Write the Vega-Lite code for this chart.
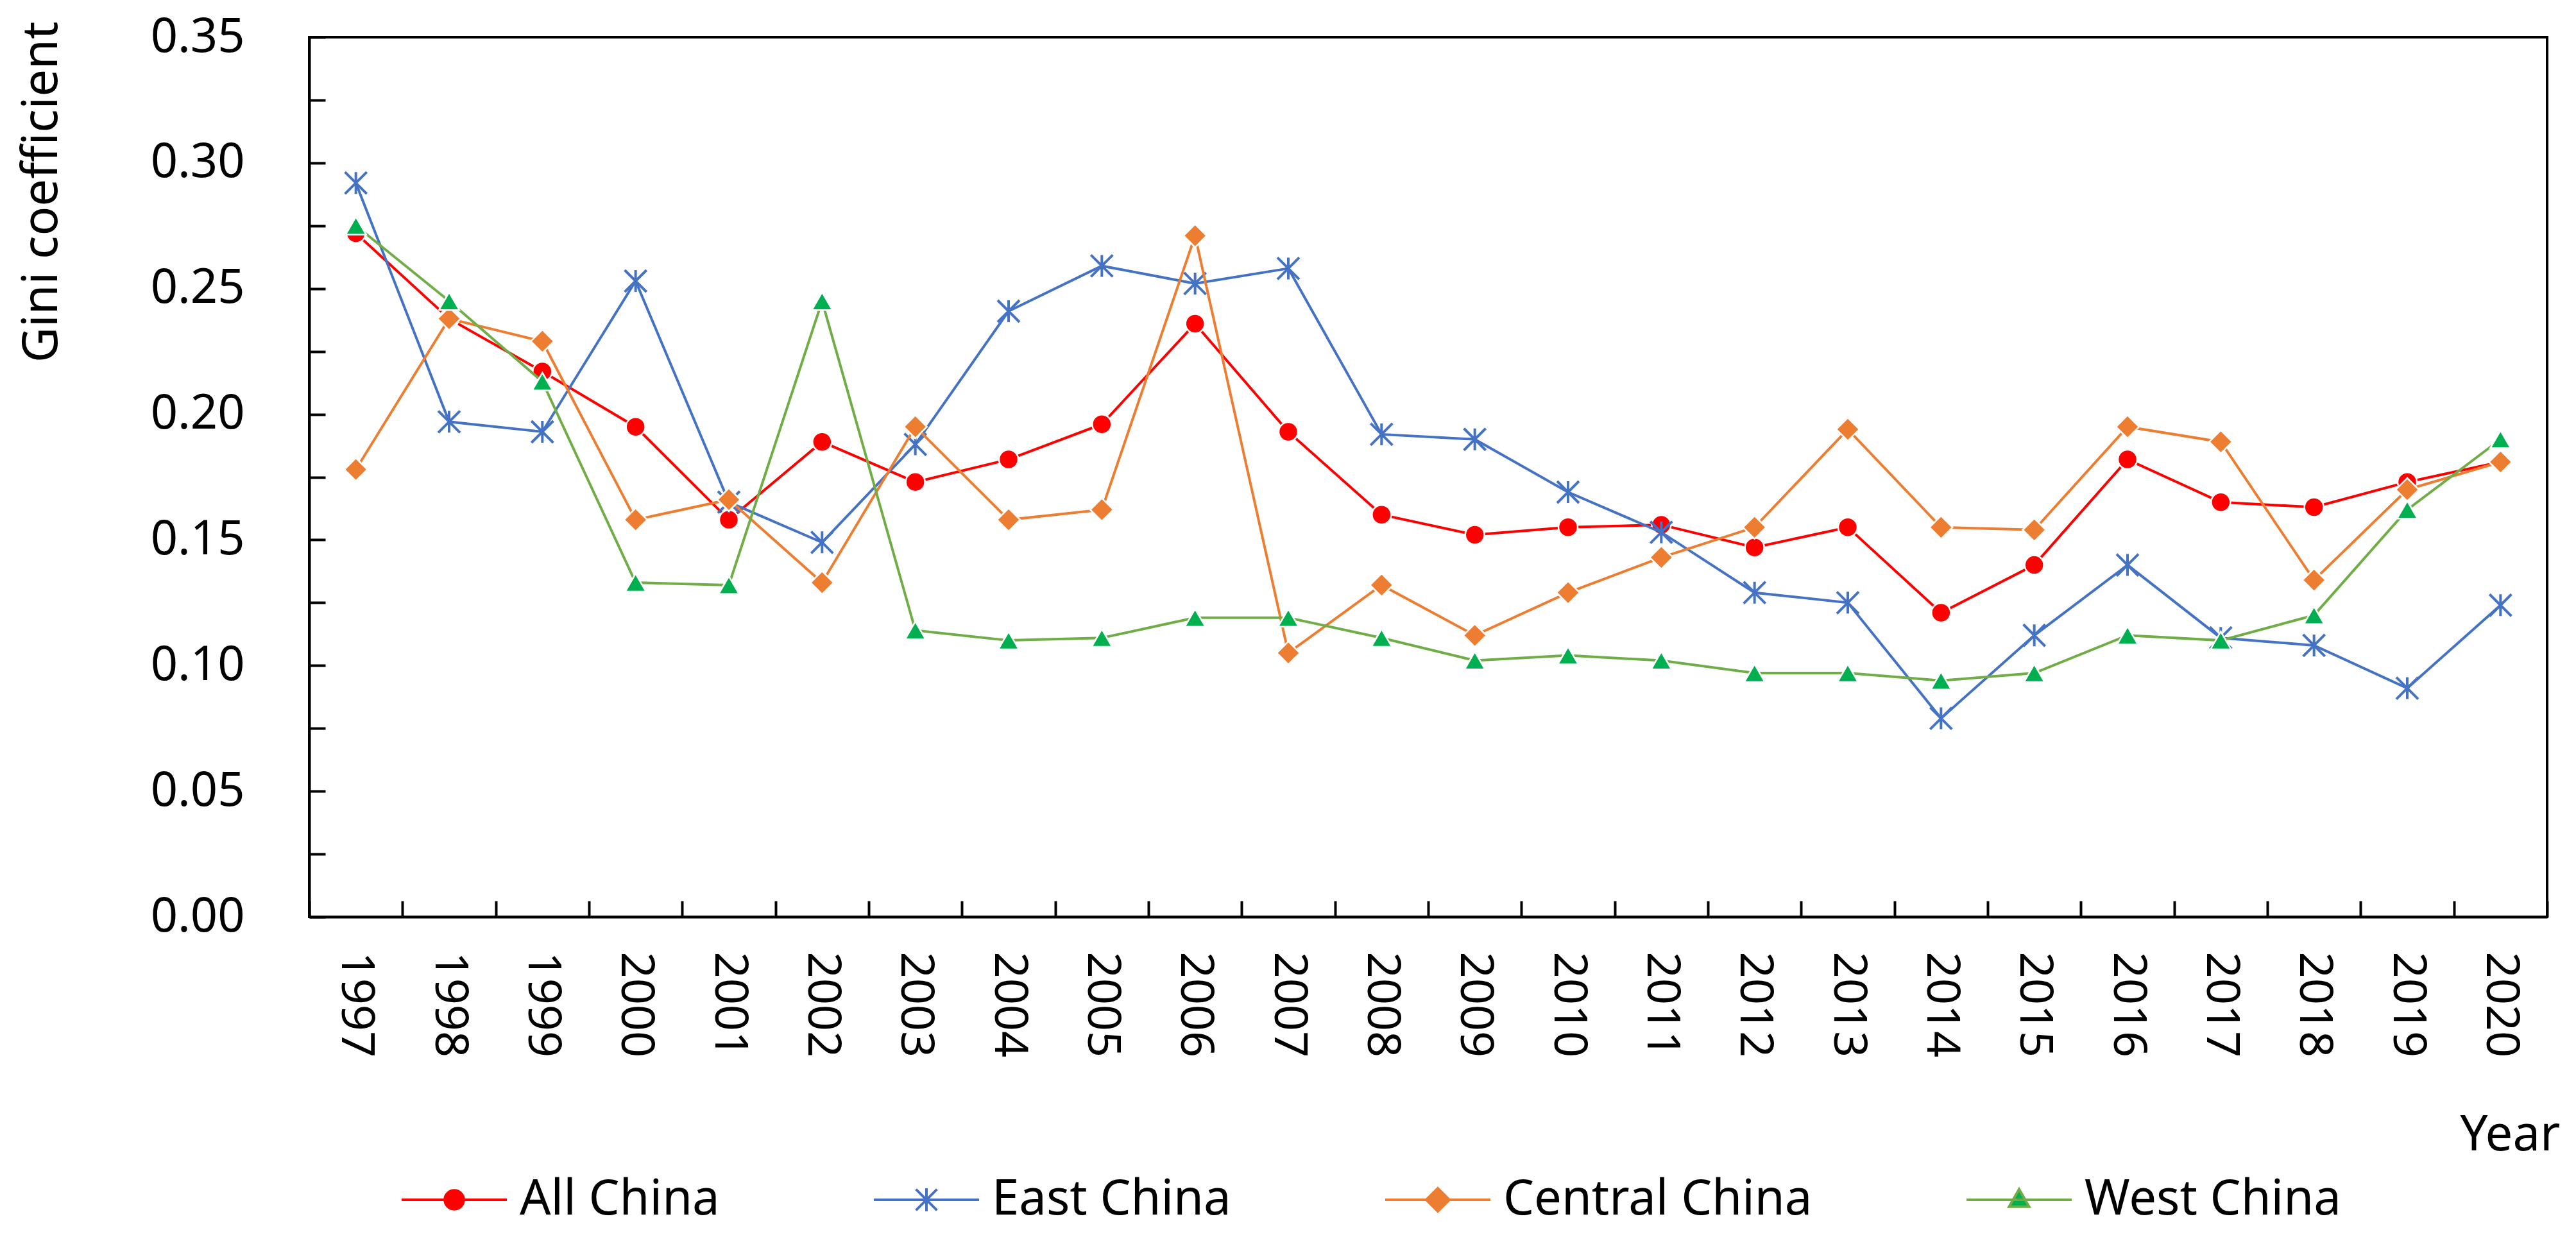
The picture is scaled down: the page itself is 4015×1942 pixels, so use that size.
{
  "$schema": "https://vega.github.io/schema/vega-lite/v6.json",
  "width": 3488,
  "height": 1371,
  "autosize": {"type": "none"},
  "padding": {"left": 482, "top": 58, "right": 45, "bottom": 513},
  "background": "white",
  "config": {
    "view": {"stroke": "black", "strokeWidth": 4},
    "font": "Noto Sans",
    "axis": {"labelFont": "Noto Sans", "titleFont": "Noto Sans", "labelColor": "black", "titleColor": "black", "titleFontWeight": "normal", "grid": false}
  },
  "data": {
    "values": [
      {"year": "1997", "series": "All China", "value": 0.272},
      {"year": "1998", "series": "All China", "value": 0.238},
      {"year": "1999", "series": "All China", "value": 0.217},
      {"year": "2000", "series": "All China", "value": 0.195},
      {"year": "2001", "series": "All China", "value": 0.158},
      {"year": "2002", "series": "All China", "value": 0.189},
      {"year": "2003", "series": "All China", "value": 0.173},
      {"year": "2004", "series": "All China", "value": 0.182},
      {"year": "2005", "series": "All China", "value": 0.196},
      {"year": "2006", "series": "All China", "value": 0.236},
      {"year": "2007", "series": "All China", "value": 0.193},
      {"year": "2008", "series": "All China", "value": 0.160},
      {"year": "2009", "series": "All China", "value": 0.152},
      {"year": "2010", "series": "All China", "value": 0.155},
      {"year": "2011", "series": "All China", "value": 0.156},
      {"year": "2012", "series": "All China", "value": 0.147},
      {"year": "2013", "series": "All China", "value": 0.155},
      {"year": "2014", "series": "All China", "value": 0.121},
      {"year": "2015", "series": "All China", "value": 0.140},
      {"year": "2016", "series": "All China", "value": 0.182},
      {"year": "2017", "series": "All China", "value": 0.165},
      {"year": "2018", "series": "All China", "value": 0.163},
      {"year": "2019", "series": "All China", "value": 0.173},
      {"year": "2020", "series": "All China", "value": 0.181},
      {"year": "1997", "series": "East China", "value": 0.292},
      {"year": "1998", "series": "East China", "value": 0.197},
      {"year": "1999", "series": "East China", "value": 0.193},
      {"year": "2000", "series": "East China", "value": 0.253},
      {"year": "2001", "series": "East China", "value": 0.165},
      {"year": "2002", "series": "East China", "value": 0.149},
      {"year": "2003", "series": "East China", "value": 0.188},
      {"year": "2004", "series": "East China", "value": 0.241},
      {"year": "2005", "series": "East China", "value": 0.259},
      {"year": "2006", "series": "East China", "value": 0.252},
      {"year": "2007", "series": "East China", "value": 0.258},
      {"year": "2008", "series": "East China", "value": 0.192},
      {"year": "2009", "series": "East China", "value": 0.190},
      {"year": "2010", "series": "East China", "value": 0.169},
      {"year": "2011", "series": "East China", "value": 0.153},
      {"year": "2012", "series": "East China", "value": 0.129},
      {"year": "2013", "series": "East China", "value": 0.125},
      {"year": "2014", "series": "East China", "value": 0.079},
      {"year": "2015", "series": "East China", "value": 0.112},
      {"year": "2016", "series": "East China", "value": 0.140},
      {"year": "2017", "series": "East China", "value": 0.111},
      {"year": "2018", "series": "East China", "value": 0.108},
      {"year": "2019", "series": "East China", "value": 0.091},
      {"year": "2020", "series": "East China", "value": 0.124},
      {"year": "1997", "series": "Central China", "value": 0.178},
      {"year": "1998", "series": "Central China", "value": 0.238},
      {"year": "1999", "series": "Central China", "value": 0.229},
      {"year": "2000", "series": "Central China", "value": 0.158},
      {"year": "2001", "series": "Central China", "value": 0.166},
      {"year": "2002", "series": "Central China", "value": 0.133},
      {"year": "2003", "series": "Central China", "value": 0.195},
      {"year": "2004", "series": "Central China", "value": 0.158},
      {"year": "2005", "series": "Central China", "value": 0.162},
      {"year": "2006", "series": "Central China", "value": 0.271},
      {"year": "2007", "series": "Central China", "value": 0.105},
      {"year": "2008", "series": "Central China", "value": 0.132},
      {"year": "2009", "series": "Central China", "value": 0.112},
      {"year": "2010", "series": "Central China", "value": 0.129},
      {"year": "2011", "series": "Central China", "value": 0.143},
      {"year": "2012", "series": "Central China", "value": 0.155},
      {"year": "2013", "series": "Central China", "value": 0.194},
      {"year": "2014", "series": "Central China", "value": 0.155},
      {"year": "2015", "series": "Central China", "value": 0.154},
      {"year": "2016", "series": "Central China", "value": 0.195},
      {"year": "2017", "series": "Central China", "value": 0.189},
      {"year": "2018", "series": "Central China", "value": 0.134},
      {"year": "2019", "series": "Central China", "value": 0.170},
      {"year": "2020", "series": "Central China", "value": 0.181},
      {"year": "1997", "series": "West China", "value": 0.275},
      {"year": "1998", "series": "West China", "value": 0.245},
      {"year": "1999", "series": "West China", "value": 0.213},
      {"year": "2000", "series": "West China", "value": 0.133},
      {"year": "2001", "series": "West China", "value": 0.132},
      {"year": "2002", "series": "West China", "value": 0.245},
      {"year": "2003", "series": "West China", "value": 0.114},
      {"year": "2004", "series": "West China", "value": 0.110},
      {"year": "2005", "series": "West China", "value": 0.111},
      {"year": "2006", "series": "West China", "value": 0.119},
      {"year": "2007", "series": "West China", "value": 0.119},
      {"year": "2008", "series": "West China", "value": 0.111},
      {"year": "2009", "series": "West China", "value": 0.102},
      {"year": "2010", "series": "West China", "value": 0.104},
      {"year": "2011", "series": "West China", "value": 0.102},
      {"year": "2012", "series": "West China", "value": 0.097},
      {"year": "2013", "series": "West China", "value": 0.097},
      {"year": "2014", "series": "West China", "value": 0.094},
      {"year": "2015", "series": "West China", "value": 0.097},
      {"year": "2016", "series": "West China", "value": 0.112},
      {"year": "2017", "series": "West China", "value": 0.110},
      {"year": "2018", "series": "West China", "value": 0.120},
      {"year": "2019", "series": "West China", "value": 0.162},
      {"year": "2020", "series": "West China", "value": 0.190}
    ]
  },
  "encoding": {
    "x": {
      "field": "year",
      "type": "ordinal",
      "bandPosition": 0.5,
      "scale": {"type": "band", "paddingInner": 0, "paddingOuter": 0},
      "axis": {
        "title": "Year",
        "titleFontSize": 76,
        "titleAnchor": "end",
        "titleAlign": "right",
        "titleBaseline": "middle",
        "titleX": 3508,
        "titleY": 340,
        "labelAngle": 90,
        "labelAlign": "left",
        "labelBaseline": "middle",
        "labelFontSize": 72,
        "labelPadding": 79,
        "tickBand": "extent",
        "tickSize": -25,
        "tickWidth": 4,
        "tickColor": "black",
        "domainColor": "black",
        "domainWidth": 4
      }
    },
    "y": {
      "field": "value",
      "type": "quantitative",
      "scale": {"domain": [0, 0.35], "nice": false},
      "axis": {
        "title": "Gini coefficient",
        "titleFontSize": 76,
        "titleAngle": -90,
        "titleAlign": "right",
        "titleBaseline": "middle",
        "titleX": -417,
        "titleY": -25,
        "values": [0, 0.025, 0.05, 0.075, 0.1, 0.125, 0.15, 0.175, 0.2, 0.225, 0.25, 0.275, 0.3, 0.325, 0.35],
        "format": ".2f",
        "labelExpr": "abs(datum.value * 20 - round(datum.value * 20)) < 0.001 ? datum.label : ''",
        "labelFontSize": 74,
        "labelPadding": 126,
        "labelBaseline": "middle",
        "tickSize": -25,
        "tickWidth": 4,
        "tickColor": "black",
        "domainColor": "black",
        "domainWidth": 4
      }
    }
  },
  "layer": [
    {
      "transform": [{"filter": "datum.series === 'All China'"}],
      "mark": {"type": "line", "strokeWidth": 4},
      "encoding": {
        "color": {
          "field": "series",
          "type": "nominal",
          "scale": {"domain": ["All China", "East China", "Central China", "West China"], "range": ["#FF0000", "#4472C4", "#ED7D31", "#70AD47"]},
          "legend": {
            "title": null,
            "orient": "none",
            "direction": "horizontal",
            "legendX": 142,
            "legendY": 1728,
            "padding": 0,
            "symbolSize": 26896,
            "symbolStrokeWidth": 4,
            "labelFont": "Noto Sans",
            "labelFontSize": 76,
            "labelColor": "black",
            "labelOffset": 18,
            "labelLimit": 1000,
            "columnPadding": 232,
            "encode": {
              "symbols": {
                "update": {
                  "shape": {"signal": "datum.value === 'All China' ? 'M-1,0H1M0.18,0A0.18,0.18,0,1,1,-0.18,0A0.18,0.18,0,1,1,0.18,0Z' : datum.value === 'East China' ? 'M-1,0H1M-0.2,-0.2L0.2,0.2M-0.2,0.2L0.2,-0.2M0,-0.22V0.22' : datum.value === 'Central China' ? 'M-1,0H1M-0.22,0L0,-0.22L0.22,0L0,0.22Z' : 'M-1,0H1M0,-0.2L0.19,0.13L-0.19,0.13Z'"},
                  "fill": {"signal": "datum.value === 'West China' ? '#00B050' : scale('color', datum.value)"},
                  "stroke": {"signal": "scale('color', datum.value)"},
                  "strokeWidth": {"value": 4}
                }
              }
            }
          }
        }
      }
    },
    {
      "transform": [{"filter": "datum.series === 'All China'"}],
      "mark": {"type": "point", "shape": "circle", "size": 900, "filled": true, "fill": "#FF0000", "stroke": "white", "strokeWidth": 2.5, "opacity": 1}
    },
    {
      "transform": [{"filter": "datum.series === 'East China'"}],
      "mark": {"type": "line", "strokeWidth": 4},
      "encoding": {
        "color": {
          "field": "series",
          "type": "nominal",
          "scale": {"domain": ["All China", "East China", "Central China", "West China"], "range": ["#FF0000", "#4472C4", "#ED7D31", "#70AD47"]}
        }
      }
    },
    {
      "transform": [{"filter": "datum.series === 'East China'"}],
      "mark": {"type": "point", "shape": "M-1,-1L1,1M-1,1L1,-1M0,-1L0,1", "size": 1156, "filled": false, "fill": null, "stroke": "#4472C4", "strokeWidth": 4, "opacity": 1}
    },
    {
      "transform": [{"filter": "datum.series === 'Central China'"}],
      "mark": {"type": "line", "strokeWidth": 4},
      "encoding": {
        "color": {
          "field": "series",
          "type": "nominal",
          "scale": {"domain": ["All China", "East China", "Central China", "West China"], "range": ["#FF0000", "#4472C4", "#ED7D31", "#70AD47"]}
        }
      }
    },
    {
      "transform": [{"filter": "datum.series === 'Central China'"}],
      "mark": {"type": "point", "shape": "diamond", "size": 1296, "filled": true, "fill": "#ED7D31", "stroke": "white", "strokeWidth": 2.5, "opacity": 1}
    },
    {
      "transform": [{"filter": "datum.series === 'West China'"}],
      "mark": {"type": "line", "strokeWidth": 4},
      "encoding": {
        "color": {
          "field": "series",
          "type": "nominal",
          "scale": {"domain": ["All China", "East China", "Central China", "West China"], "range": ["#FF0000", "#4472C4", "#ED7D31", "#70AD47"]}
        }
      }
    },
    {
      "transform": [{"filter": "datum.series === 'West China'"}],
      "mark": {"type": "point", "shape": "triangle-up", "size": 1024, "filled": true, "fill": "#00B050", "stroke": "white", "strokeWidth": 2.5, "opacity": 1}
    }
  ]
}
